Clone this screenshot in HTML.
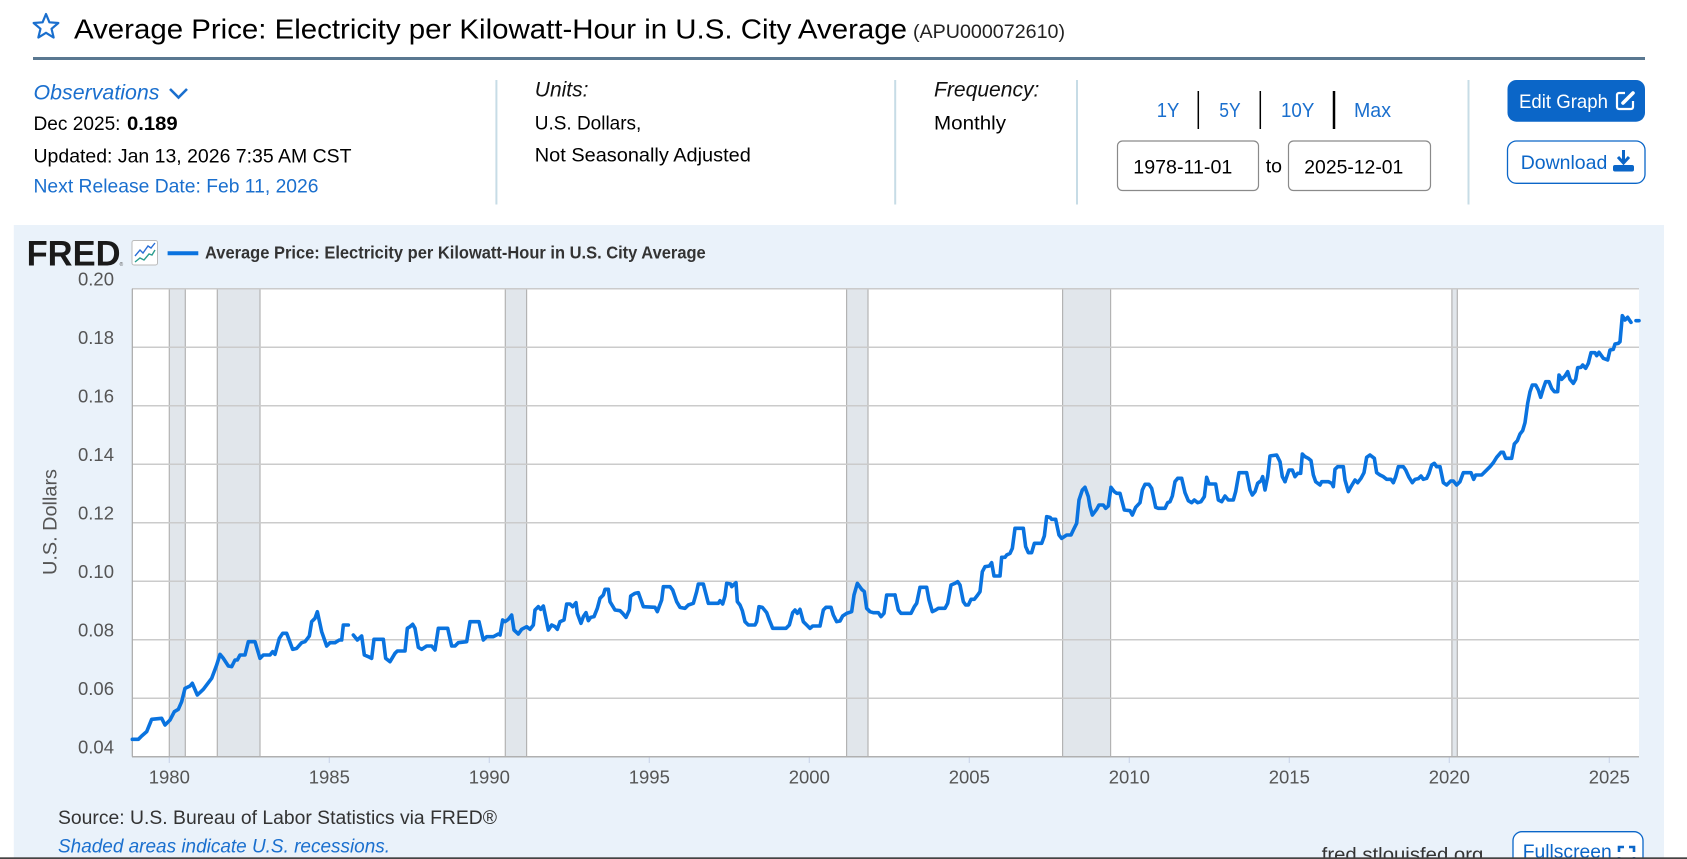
<!DOCTYPE html>
<html><head><meta charset="utf-8"><title>FRED chart</title>
<style>
html,body{margin:0;padding:0;background:#fff;width:1687px;height:859px;overflow:hidden}
svg{display:block}
text{font-family:"Liberation Sans",Arial,sans-serif}
</style></head>
<body>
<svg width="1687" height="859" viewBox="0 0 1687 859" xmlns="http://www.w3.org/2000/svg">
<!-- header -->
<polygon points="46,14 49.41,22.31 58.36,22.98 51.52,28.79 53.64,37.52 46,32.8 38.36,37.52 40.48,28.79 33.64,22.98 42.59,22.31" fill="none" stroke="#1a6fce" stroke-width="2.2" stroke-linejoin="round"/>
<text x="74" y="38.5" font-size="28" fill="#000" textLength="833" lengthAdjust="spacingAndGlyphs">Average Price: Electricity per Kilowatt-Hour in U.S. City Average</text>
<text x="913" y="38" font-size="19" fill="#222" textLength="152" lengthAdjust="spacingAndGlyphs">(APU000072610)</text>
<rect x="33" y="57" width="1612" height="3" fill="#5a7891"/>

<text x="33.5" y="99.3" font-size="21" font-style="italic" fill="#1a6fce" textLength="126" lengthAdjust="spacingAndGlyphs">Observations</text>
<polyline points="170,89 178.5,97.5 187,89" fill="none" stroke="#1a6fce" stroke-width="2.6"/>
<text x="33.5" y="130" font-size="19.5" fill="#000" textLength="87" lengthAdjust="spacingAndGlyphs">Dec 2025:</text>
<text x="127" y="130" font-size="19.5" font-weight="bold" fill="#000" textLength="50.7" lengthAdjust="spacingAndGlyphs">0.189</text>
<text x="33.5" y="162.3" font-size="19.5" fill="#000" textLength="318" lengthAdjust="spacingAndGlyphs">Updated: Jan 13, 2026 7:35 AM CST</text>
<text x="33.5" y="192.7" font-size="19.5" fill="#1a6fce" textLength="285" lengthAdjust="spacingAndGlyphs">Next Release Date: Feb 11, 2026</text>

<g stroke="#c7dce6" stroke-width="2">
<line x1="496.4" y1="80" x2="496.4" y2="204.5"/>
<line x1="895.2" y1="80" x2="895.2" y2="204.5"/>
<line x1="1077" y1="80" x2="1077" y2="204.5"/>
<line x1="1468.5" y1="80" x2="1468.5" y2="204.5"/>
</g>

<text x="534.8" y="96.7" font-size="21" font-style="italic" fill="#111" textLength="53.6" lengthAdjust="spacingAndGlyphs">Units:</text>
<text x="534.8" y="129.3" font-size="19.5" fill="#000" textLength="106.5" lengthAdjust="spacingAndGlyphs">U.S. Dollars,</text>
<text x="534.8" y="161.7" font-size="19.5" fill="#000" textLength="216" lengthAdjust="spacingAndGlyphs">Not Seasonally Adjusted</text>
<text x="934" y="96.7" font-size="21" font-style="italic" fill="#111" textLength="105.4" lengthAdjust="spacingAndGlyphs">Frequency:</text>
<text x="934" y="129.3" font-size="19.5" fill="#000" textLength="72" lengthAdjust="spacingAndGlyphs">Monthly</text>

<g font-size="20" fill="#1a6fce">
<text x="1156.7" y="117" textLength="22.6" lengthAdjust="spacingAndGlyphs">1Y</text>
<text x="1219.3" y="117" textLength="21.4" lengthAdjust="spacingAndGlyphs">5Y</text>
<text x="1281" y="117" textLength="33.3" lengthAdjust="spacingAndGlyphs">10Y</text>
<text x="1354" y="117" textLength="37" lengthAdjust="spacingAndGlyphs">Max</text>
</g>
<line x1="1198.3" y1="91" x2="1198.3" y2="129" stroke="#000" stroke-width="1.5"/>
<line x1="1260.3" y1="91" x2="1260.3" y2="129" stroke="#000" stroke-width="1.5"/>
<line x1="1334" y1="91" x2="1334" y2="129" stroke="#000" stroke-width="2.5"/>

<rect x="1117.5" y="141" width="141" height="49.5" rx="5" fill="#fff" stroke="#8a8a8a" stroke-width="1.2"/>
<text x="1133.3" y="173.5" font-size="19.5" fill="#000" textLength="99" lengthAdjust="spacingAndGlyphs">1978-11-01</text>
<text x="1265.7" y="172.5" font-size="19.5" fill="#000" textLength="16.3" lengthAdjust="spacingAndGlyphs">to</text>
<rect x="1288.5" y="141" width="142" height="49.5" rx="5" fill="#fff" stroke="#8a8a8a" stroke-width="1.2"/>
<text x="1304.3" y="173.5" font-size="19.5" fill="#000" textLength="99" lengthAdjust="spacingAndGlyphs">2025-12-01</text>

<rect x="1507.5" y="80" width="137.5" height="41.7" rx="9" fill="#0b66c8"/>
<text x="1519" y="108" font-size="19.5" fill="#fff" textLength="89" lengthAdjust="spacingAndGlyphs">Edit Graph</text>
<path d="M1625 93 h-6 a2 2 0 0 0 -2 2 v12 a2 2 0 0 0 2 2 h12 a2 2 0 0 0 2 -2 v-6" fill="none" stroke="#fff" stroke-width="2.2"/>
<line x1="1623" y1="103" x2="1633" y2="93" stroke="#fff" stroke-width="3.6" stroke-linecap="round"/>

<rect x="1507.5" y="141" width="137.5" height="42.3" rx="9" fill="#fff" stroke="#0b66c8" stroke-width="1.3"/>
<text x="1520.7" y="169" font-size="19.5" fill="#0b66c8" textLength="86.6" lengthAdjust="spacingAndGlyphs">Download</text>
<line x1="1623.5" y1="150" x2="1623.5" y2="162" stroke="#0b66c8" stroke-width="3"/>
<polyline points="1618,157 1623.5,163 1629,157" fill="none" stroke="#0b66c8" stroke-width="3"/>
<rect x="1613" y="165" width="21" height="6.5" rx="2" fill="#0b66c8"/>

<!-- chart panel -->
<rect x="13.8" y="225" width="1650.2" height="634" fill="#eaf2fa"/>
<text x="26.6" y="265.7" font-size="35" font-weight="bold" fill="#1a1a1a" textLength="94" lengthAdjust="spacingAndGlyphs">FRED</text>
<text x="119.5" y="266" font-size="5" fill="#555">®</text>
<rect x="132" y="240.5" width="25.5" height="24.5" rx="2" fill="#fff" stroke="#bbb" stroke-width="1"/>
<polyline points="135,256 140,250 143,253 148,246 151,248 155,243" fill="none" stroke="#2a6fd6" stroke-width="1.4"/>
<polyline points="135,262 140,258 144,260 149,254 152,255 155,250" fill="none" stroke="#2a9d8f" stroke-width="1.4"/>
<line x1="167.6" y1="253.3" x2="198.3" y2="253.3" stroke="#0a73df" stroke-width="4"/>
<text x="205" y="258.5" font-size="17.5" font-weight="bold" fill="#333" textLength="500.7" lengthAdjust="spacingAndGlyphs">Average Price: Electricity per Kilowatt-Hour in U.S. City Average</text>

<!-- plot area -->
<rect x="132" y="288.7" width="1507" height="468" fill="#fff"/>
<g fill="#e1e6eb" stroke="#b3b3b3" stroke-width="1.2">
<rect x="169.3" y="288.7" width="16" height="468"/>
<rect x="217.3" y="288.7" width="42.7" height="468"/>
<rect x="505.3" y="288.7" width="21.3" height="468"/>
<rect x="846.6" y="288.7" width="21.4" height="468"/>
<rect x="1062.6" y="288.7" width="48" height="468"/>
<rect x="1451.9" y="288.7" width="5.4" height="468"/>
</g>
<g stroke="#cbcbcb" stroke-width="1.5">
<line x1="132" y1="288.7" x2="1639" y2="288.7"/>
<line x1="132" y1="347.2" x2="1639" y2="347.2"/>
<line x1="132" y1="405.7" x2="1639" y2="405.7"/>
<line x1="132" y1="464.2" x2="1639" y2="464.2"/>
<line x1="132" y1="522.7" x2="1639" y2="522.7"/>
<line x1="132" y1="581.2" x2="1639" y2="581.2"/>
<line x1="132" y1="639.7" x2="1639" y2="639.7"/>
<line x1="132" y1="698.2" x2="1639" y2="698.2"/>
</g>
<line x1="132" y1="756.7" x2="1639" y2="756.7" stroke="#b0b0b0" stroke-width="1.5"/>
<line x1="132.3" y1="288.7" x2="132.3" y2="756.7" stroke="#a8a8a8" stroke-width="1.2"/>
<g stroke="#ccd6eb" stroke-width="1.2">
<line x1="169.3" y1="757.5" x2="169.3" y2="763"/>
<line x1="329.3" y1="757.5" x2="329.3" y2="763"/>
<line x1="489.3" y1="757.5" x2="489.3" y2="763"/>
<line x1="649.3" y1="757.5" x2="649.3" y2="763"/>
<line x1="809.3" y1="757.5" x2="809.3" y2="763"/>
<line x1="969.3" y1="757.5" x2="969.3" y2="763"/>
<line x1="1129.3" y1="757.5" x2="1129.3" y2="763"/>
<line x1="1289.3" y1="757.5" x2="1289.3" y2="763"/>
<line x1="1449.3" y1="757.5" x2="1449.3" y2="763"/>
<line x1="1609.3" y1="757.5" x2="1609.3" y2="763"/>
</g>

<!-- y labels -->
<g font-size="18.5" fill="#555" text-anchor="end">
<text x="114" y="285.7">0.20</text>
<text x="114" y="344.2">0.18</text>
<text x="114" y="402.7">0.16</text>
<text x="114" y="461.2">0.14</text>
<text x="114" y="519.7">0.12</text>
<text x="114" y="578.2">0.10</text>
<text x="114" y="636.7">0.08</text>
<text x="114" y="695.2">0.06</text>
<text x="114" y="753.7">0.04</text>
</g>
<!-- x labels -->
<g font-size="18.5" fill="#555" text-anchor="middle">
<text x="169.3" y="783.5">1980</text>
<text x="329.3" y="783.5">1985</text>
<text x="489.3" y="783.5">1990</text>
<text x="649.3" y="783.5">1995</text>
<text x="809.3" y="783.5">2000</text>
<text x="969.3" y="783.5">2005</text>
<text x="1129.3" y="783.5">2010</text>
<text x="1289.3" y="783.5">2015</text>
<text x="1449.3" y="783.5">2020</text>
<text x="1609.3" y="783.5">2025</text>
</g>
<text transform="translate(56.5,522) rotate(-90)" x="0" y="0" font-size="19.5" fill="#555" text-anchor="middle" textLength="106" lengthAdjust="spacingAndGlyphs">U.S. Dollars</text>

<!-- series -->
<g fill="none" stroke="#0a73df" stroke-width="3.6" stroke-linejoin="round" stroke-linecap="round">
<g transform="translate(120,560) scale(0.333333)">
<polyline vector-effect="non-scaling-stroke" points="37,538 55,538 65,528 80,515 95,478 125,475 135,495 150,480 163,455 175,448 185,425 195,385 210,378 217,370 232,405 250,388 275,355 290,315 300,283 310,295 325,318 335,320 345,300 352,300 360,285 375,285 385,245 405,245 420,295 430,285 450,285 458,275 465,283 478,235 488,220 500,220 518,268 530,265 545,248 555,245 568,228 575,185 585,175 592,155 605,215 620,258 630,248 645,248 658,240 665,240 670,195 685,195"/>
<polyline vector-effect="non-scaling-stroke" points="700,225 712,240 725,228 733,285 745,290 755,295 762,238 790,238 797,295 810,305 825,280 832,273 855,273 862,205 870,200 878,193 885,205 895,262 905,268 920,258 935,258 945,270 955,205 983,205 995,258 1005,258 1015,248 1040,245 1050,185 1077,185 1090,240 1100,230 1120,230 1135,222 1140,222"/>
</g>
<g transform="translate(500,560) scale(0.333333)">
<polyline vector-effect="non-scaling-stroke" points="0,225 8,180 15,185 25,178 35,165 42,210 55,222 65,208 80,200 90,208 100,195 105,150 115,140 122,148 130,138 145,210 155,195 165,200 172,208 180,185 192,180 200,132 210,132 218,140 228,128 232,160 243,190 250,170 258,158 265,182 272,172 282,170 292,145 300,115 310,105 315,88 325,88 330,125 345,150 360,152 368,160 378,172 388,150 392,108 405,100 415,98 430,140 465,142 472,155 485,120 490,80 510,80 518,90 530,125 540,142 555,145 565,135 580,130 590,95 595,72 610,72 625,130 655,130 660,122 668,132 675,108 680,70 692,72 695,80 700,75 708,68 712,125 720,135 727,152 735,185 745,195 765,195 770,185 777,140 787,142 800,158 808,180 818,205 858,205 868,195 878,158 885,150 892,160 900,148 910,185 920,195 930,205 938,198 960,198 970,150 978,142 993,142 1000,165 1010,185 1020,183 1028,168 1040,160 1055,155 1062,105 1072,70 1085,88 1093,95 1100,145 1110,155 1120,158 1135,158 1143,170 1152,160 1160,105 1185,105"/>
</g>
<g transform="translate(895,430) scale(0.333333)">
<polyline vector-effect="non-scaling-stroke" points="0,495 10,540 18,550 48,550 58,530 65,520 75,472 95,472 102,510 112,545 122,540 130,535 150,535 158,520 168,465 180,460 188,455 195,465 205,515 212,525 220,525 228,508 238,508 248,495 255,485 262,425 270,410 283,408 290,398 297,438 315,438 320,382 330,382 335,375 345,370 352,355 360,295 385,295 392,350 400,368 410,368 418,340 440,340 448,318 455,260 465,262 470,268 482,268 492,315 500,325 515,315 528,315 535,300 545,280 552,210 562,180 570,172 580,200 585,230 592,255 605,238 612,225 625,225 632,235 640,228 648,172 658,185 665,190 675,190 688,240 705,242 712,255 722,232 735,218 742,180 750,163 762,163 770,175 782,232 790,235 810,235 818,218 825,215 832,198 840,155 848,145 860,145 870,188 880,212 890,218 898,210 908,218 918,215 928,200 935,142 942,162 962,162 970,210 980,215 990,198 1000,210 1015,210 1022,185 1032,128 1055,128 1065,180 1072,195 1080,185 1088,160 1098,152 1103,140 1110,180 1118,140 1125,78 1145,75 1155,95 1162,140 1170,155"/>
</g>
<g transform="translate(1285,290) scale(0.333333)">
<polyline vector-effect="non-scaling-stroke" points="0,575 12,540 22,540 30,560 38,550 47,550 52,492 60,500 70,505 78,512 85,555 92,575 105,585 110,575 130,575 140,580 145,590 150,538 158,530 175,530 180,570 190,605 198,590 210,570 218,578 228,565 237,548 245,502 255,495 268,505 275,548 285,555 295,560 305,568 318,568 325,578 332,560 340,530 355,530 362,540 372,562 382,578 390,568 400,566 408,558 415,568 425,565 432,550 440,525 448,520 455,530 465,530 475,578 485,585 497,573 505,573 515,585 525,575 535,548 558,548 566,568 572,555 590,555 600,545 615,530 625,518 635,502 648,487 655,487 662,505 680,505 688,462 697,452 705,432 713,422 720,398 728,340 735,305 742,285 752,285 760,300 767,322 775,295 782,275 792,275 800,295 808,305 818,305 822,255 830,268 840,258 848,245 855,268 865,280 872,268 878,233 888,232 893,225 902,235 910,220 918,188 930,188 935,197 942,187 955,205 968,210 975,180 985,178 990,162 1000,160 1005,155 1012,77 1020,90 1028,82 1038,97"/>
<polyline vector-effect="non-scaling-stroke" points="1053,92 1062,92"/>
</g>
</g>

<!-- footer -->
<text x="58" y="823.8" font-size="19" fill="#333" textLength="439" lengthAdjust="spacingAndGlyphs">Source: U.S. Bureau of Labor Statistics via FRED®</text>
<text x="58" y="852.6" font-size="19" font-style="italic" fill="#1a6fce" textLength="332" lengthAdjust="spacingAndGlyphs">Shaded areas indicate U.S. recessions.</text>
<text x="1321.7" y="861" font-size="19" fill="#333" textLength="161.6" lengthAdjust="spacingAndGlyphs">fred.stlouisfed.org</text>
<rect x="1513" y="831.7" width="130" height="50" rx="9" fill="#fff" stroke="#0b66c8" stroke-width="1.3"/>
<text x="1522.7" y="858" font-size="19.5" fill="#0b66c8" textLength="89" lengthAdjust="spacingAndGlyphs">Fullscreen</text>
<g fill="none" stroke="#0b66c8" stroke-width="2.6">
<polyline points="1619,852 1619,847 1624,847"/>
<polyline points="1629,847 1634,847 1634,852"/>
<polyline points="1619,857 1619,862"/>
<polyline points="1634,857 1634,862"/>
</g>
<rect x="0" y="857.3" width="1687" height="1.7" fill="#444"/>
</svg>
</body></html>
